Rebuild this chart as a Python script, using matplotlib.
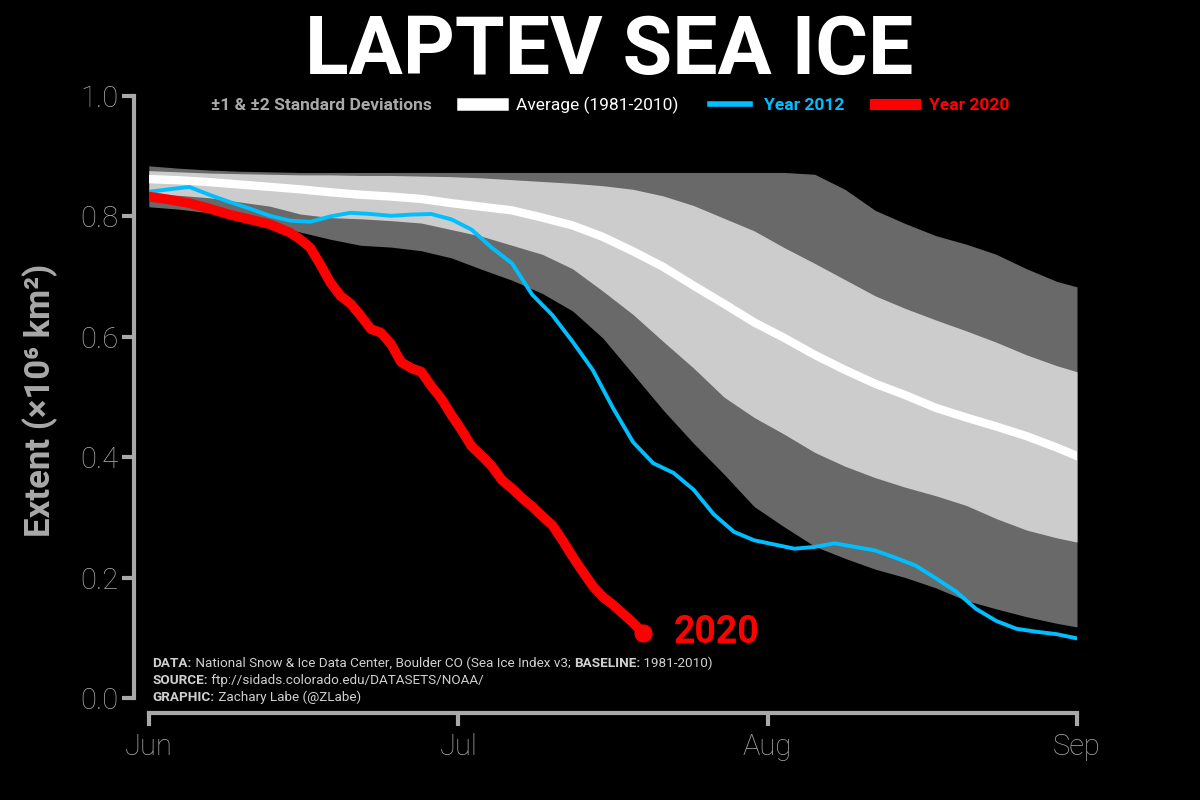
import matplotlib
matplotlib.use('Agg')
import matplotlib.pyplot as plt
from matplotlib.lines import Line2D
from matplotlib.patches import Patch
import numpy as np

plt.rcParams['font.family'] = ['Roboto', 'DejaVu Sans']

# days since June 1 (Sep 1 = day 92)
band_days = [0, 3, 6, 9, 12, 15, 18, 21, 24, 27, 30, 33, 36, 39, 42, 45,
             48, 51, 54, 57, 60, 63, 66, 69, 72, 75, 78, 81, 84, 87, 90, 92]
avg = [0.862, 0.860, 0.857, 0.853, 0.849, 0.845, 0.840, 0.836, 0.833, 0.829,
       0.822, 0.816, 0.810, 0.798, 0.785, 0.766, 0.742, 0.716, 0.685, 0.655,
       0.624, 0.598, 0.570, 0.545, 0.522, 0.503, 0.482, 0.466, 0.451, 0.435,
       0.416, 0.402]
upper2 = [0.884, 0.880, 0.877, 0.875, 0.874, 0.873, 0.873, 0.873, 0.873, 0.873,
          0.873, 0.873, 0.873, 0.873, 0.873, 0.873, 0.873, 0.873, 0.873, 0.873,
          0.873, 0.873, 0.870, 0.845, 0.810, 0.788, 0.768, 0.754, 0.737, 0.713,
          0.692, 0.683]
upper1 = [0.876, 0.874, 0.872, 0.871, 0.870, 0.869, 0.869, 0.868, 0.868, 0.867,
          0.866, 0.864, 0.861, 0.858, 0.855, 0.851, 0.845, 0.834, 0.818, 0.797,
          0.776, 0.748, 0.722, 0.695, 0.668, 0.647, 0.628, 0.610, 0.591, 0.570,
          0.552, 0.542]
lower1 = [0.838, 0.835, 0.831, 0.824, 0.817, 0.804, 0.798, 0.796, 0.793, 0.789,
          0.778, 0.767, 0.752, 0.737, 0.713, 0.676, 0.637, 0.592, 0.548, 0.500,
          0.466, 0.438, 0.408, 0.385, 0.366, 0.350, 0.336, 0.320, 0.298, 0.279,
          0.266, 0.259]
lower2 = [0.816, 0.812, 0.806, 0.797, 0.785, 0.774, 0.762, 0.752, 0.749, 0.743,
          0.731, 0.712, 0.694, 0.672, 0.643, 0.598, 0.538, 0.478, 0.423, 0.372,
          0.318, 0.284, 0.252, 0.232, 0.214, 0.200, 0.183, 0.162, 0.148, 0.135,
          0.124, 0.118]

days_2012 = list(range(0, 93, 2))
ext_2012 = [0.841, 0.845, 0.849, 0.836, 0.824, 0.813, 0.801, 0.793, 0.791, 0.800,
            0.806, 0.804, 0.801, 0.803, 0.804, 0.795, 0.778, 0.748, 0.722, 0.670,
            0.636, 0.592, 0.545, 0.482, 0.425, 0.390, 0.374, 0.346, 0.305, 0.276,
            0.262, 0.255, 0.248, 0.251, 0.257, 0.251, 0.245, 0.233, 0.220, 0.199,
            0.177, 0.148, 0.128, 0.115, 0.110, 0.106, 0.099]

days_2020 = [0, 2, 4, 6, 8, 10, 12] + list(range(13, 50))
ext_2020 = [0.833, 0.828, 0.822, 0.813, 0.803, 0.795, 0.787, 0.780, 0.773, 0.762,
            0.748, 0.720, 0.690, 0.668, 0.655, 0.635, 0.613, 0.607, 0.588, 0.558,
            0.548, 0.542, 0.518, 0.497, 0.470, 0.445, 0.418, 0.402, 0.385, 0.362,
            0.348, 0.332, 0.318, 0.302, 0.287, 0.262, 0.235, 0.210, 0.186, 0.168,
            0.155, 0.140, 0.125, 0.108]

month_labels = ['Jun', 'Jul', 'Aug', 'Sep']
gray = '#a9a9a9'

fig = plt.figure(figsize=(12, 8), dpi=100, facecolor='black')
ax = fig.add_axes([0.124, 0.1275, 0.7735, 0.7525])
ax.set_facecolor('black')

ax.fill_between(band_days, lower2, upper2, color='#696969', lw=0)
ax.fill_between(band_days, lower1, upper1, color='#cccccc', lw=0)
ax.plot(band_days, avg, color='white', lw=6)
ax.plot(days_2012, ext_2012, color='deepskyblue', lw=2.8)
ax.plot(days_2020, ext_2020, color='red', lw=7, solid_capstyle='round')
ax.plot(days_2020[-1], ext_2020[-1], 'o', color='red', ms=12)
ax.text(days_2020[-1] + 3, ext_2020[-1], '2020', color='red', fontsize=27,
        fontweight='bold', va='center', ha='left')

ax.set_xlim(0, 92)
ax.set_ylim(0, 1)
for s in ['top', 'right']:
    ax.spines[s].set_visible(False)
for s in ['left', 'bottom']:
    ax.spines[s].set_position(('outward', 11))
    ax.spines[s].set_color(gray)
    ax.spines[s].set_linewidth(3)

ax.set_xticks(np.linspace(0, 92, 4))
ax.set_xticklabels(month_labels)
ax.set_yticks(np.arange(0, 1.01, 0.2))
ax.set_yticklabels(['%.1f' % v for v in np.arange(0, 1.01, 0.2)])
ax.tick_params(axis='both', colors=gray, width=3, length=9, labelsize=21)
ax.tick_params(axis='y', pad=2)
ax.tick_params(axis='x', pad=5)
for lab in ax.get_xticklabels() + ax.get_yticklabels():
    lab.set_fontweight('light')

ax.set_ylabel('Extent (\u00d710\u2076 km\u00b2)', fontsize=25, fontweight='bold',
              color=gray, va='center')
ax.yaxis.set_label_coords(-0.1175, 0.495)

fig.text(0.508, 0.935, 'LAPTEV SEA ICE', color='white', fontsize=58,
         fontweight='bold', ha='center', va='center')

handles = [Patch(facecolor='none', edgecolor='none'),
           Line2D([], [], color='white', lw=9),
           Line2D([], [], color='deepskyblue', lw=4),
           Line2D([], [], color='red', lw=8)]
labels = ['\u00b11 & \u00b12 Standard Deviations', 'Average (1981-2010)',
          'Year 2012', 'Year 2020']
leg = ax.legend(handles, labels, loc='center', bbox_to_anchor=(0.468, 0.985),
                ncol=4, frameon=False, fontsize=12.5, handlelength=2.3,
                handletextpad=0.8, columnspacing=1.8)
for t, c, w in zip(leg.get_texts(), [gray, 'white', 'deepskyblue', 'red'],
                   ['bold', 'normal', 'bold', 'bold']):
    t.set_color(c)
    t.set_fontweight(w)

# footer: pieces of (text, bold) chained left to right
foot = [[('DATA:', True), (' National Snow & Ice Data Center, Boulder CO (Sea Ice Index v3; ', False),
         ('BASELINE:', True), (' 1981-2010)', False)],
        [('SOURCE:', True), (' ftp://sidads.colorado.edu/DATASETS/NOAA/', False)],
        [('GRAPHIC:', True), (' Zachary Labe (@ZLabe)', False)]]
for i, pieces in enumerate(foot):
    prev = None
    for txt, bold in pieces:
        w = 'bold' if bold else 'normal'
        if prev is None:
            prev = ax.text(0.004, 0.052 - i * 0.0285, txt, transform=ax.transAxes,
                           color='#d0d0d0', fontsize=9.7, fontweight=w,
                           va='baseline', ha='left')
        else:
            prev = ax.annotate(txt, xy=(1, 0), xycoords=prev, color='#d0d0d0',
                               fontsize=9.7, fontweight=w, va='bottom', ha='left')

fig.savefig('out.png', dpi=100, facecolor='black')
